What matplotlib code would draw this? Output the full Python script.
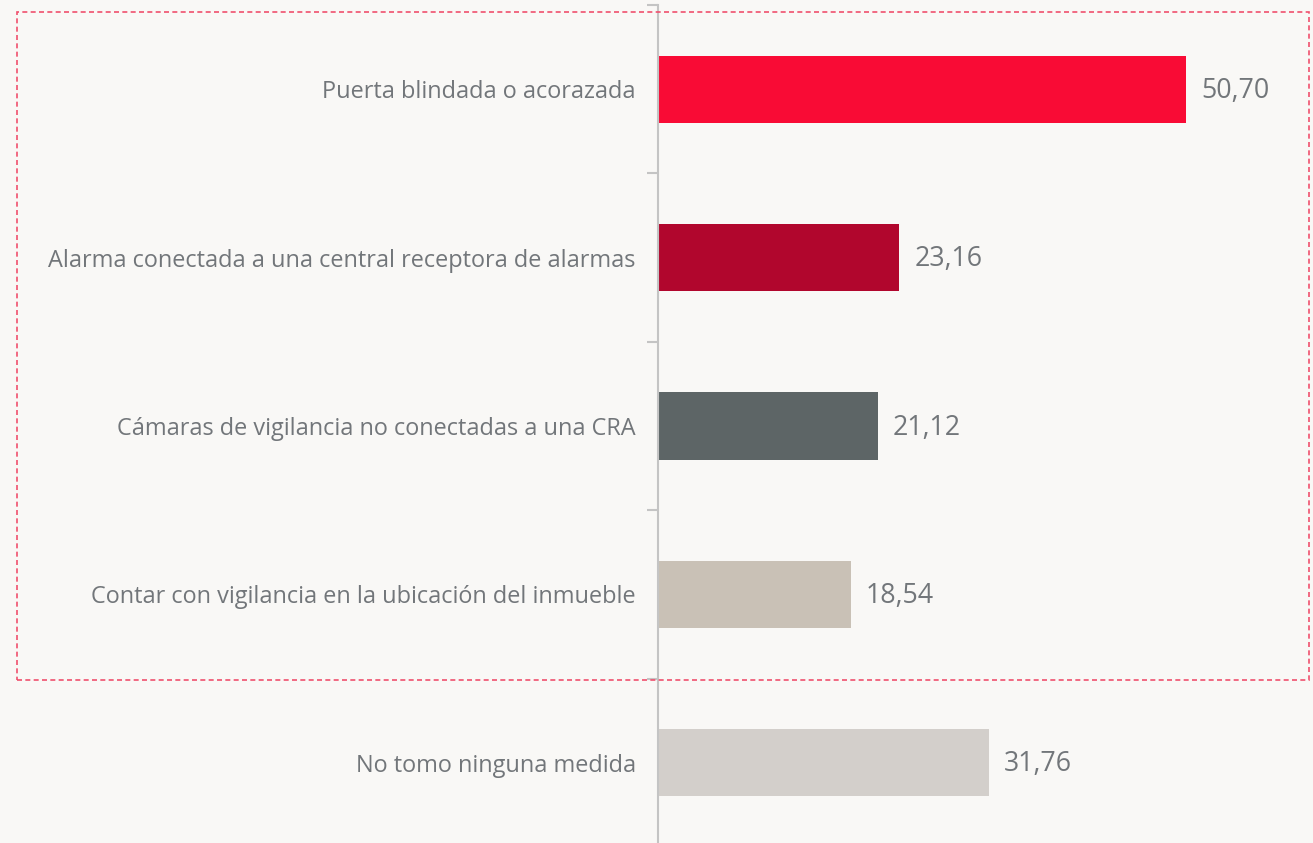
import matplotlib.pyplot as plt
from matplotlib.patches import Rectangle

# --- Datos ---
categorias = [
    "Puerta blindada o acorazada",
    "Alarma conectada a una central receptora de alarmas",
    "Cámaras de vigilancia no conectadas a una CRA",
    "Contar con vigilancia en la ubicación del inmueble",
    "No tomo ninguna medida",
]
valores = [50.70, 23.16, 21.12, 18.54, 31.76]
etiquetas = ["50,70", "23,16", "21,12", "18,54", "31,76"]
colores = ["#f90b35", "#b1062d", "#5d6566", "#c9c1b6", "#d3cfcb"]

fondo = "#f9f8f6"
gris_texto = "#72767a"
gris_eje = "#c4c4c4"

plt.rcParams['font.family'] = ['Open Sans', 'DejaVu Sans']

W, H = 1313, 843
fig = plt.figure(figsize=(W / 100, H / 100), dpi=100, facecolor=fondo)
# eje desde x=658 hasta el borde derecho, y de 5 a 847 px
ax = fig.add_axes([658 / W, -4 / H, 1 - 658 / W, 842 / H])
ax.set_facecolor(fondo)

y = list(range(len(categorias)))
ax.barh(y, valores, height=0.4, color=colores)
ax.set_ylim(len(categorias) - 0.5, -0.5)
ax.set_xlim(0, (W - 658) / 10.41)

for i, v in enumerate(valores):
    ax.text(v + 1.45, i + 0.01, etiquetas[i], va='center', ha='left',
            fontsize=19.3, color=gris_texto)

ax.set_yticks([i - 0.5 for i in range(len(categorias) + 1)])
ax.set_yticklabels([])
ax.set_yticks(y, minor=True)
ax.set_yticklabels(categorias, minor=True, fontsize=16.9, color=gris_texto)
ax.tick_params(axis='y', which='major', length=8, width=1.5, color=gris_eje)
ax.tick_params(axis='y', which='minor', length=0, pad=16)
ax.set_xticks([])

for s in ['top', 'right', 'bottom']:
    ax.spines[s].set_visible(False)
ax.spines['left'].set_color(gris_eje)
ax.spines['left'].set_linewidth(1.5)

# recuadro punteado
fig.patches.append(Rectangle((17 / W, 1 - 680 / H), (1309 - 17) / W, (680 - 12) / H,
                             transform=fig.transFigure, fill=False,
                             edgecolor="#f0506e", linestyle=(0, (3, 2)), linewidth=1.2))

fig.savefig("out.png", dpi=100, facecolor=fondo)
